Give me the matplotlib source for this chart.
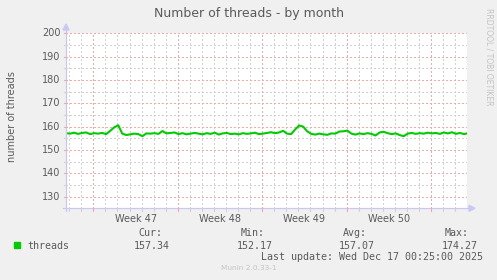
import matplotlib
matplotlib.use("Agg")
import matplotlib.pyplot as plt
import numpy as np

# samples every 8 hours (1/3 day) over the month window
threads = [157.2, 157.0, 157.4, 156.9, 157.3, 157.5, 156.8, 157.2, 157.0, 157.3,
           156.8, 158.2, 159.7, 160.6, 157.0, 156.4, 156.7, 157.0, 156.8, 155.9,
           157.1, 157.0, 157.2, 156.9, 158.1, 157.1, 157.3, 157.5, 156.8, 157.2,
           156.7, 157.0, 157.3, 157.0, 156.7, 157.2, 156.9, 157.4, 156.6, 157.1,
           157.3, 156.8, 157.0, 156.7, 157.2, 156.9, 157.1, 157.4, 156.8, 157.0,
           157.3, 157.6, 157.2, 157.5, 158.2, 157.0, 156.8, 158.8, 160.5, 160.0,
           158.0, 156.9, 156.6, 157.0, 156.7, 156.5, 157.1, 157.0, 157.9, 158.0,
           158.3, 157.0, 156.6, 157.1, 156.8, 157.2, 156.9, 156.2, 157.5, 157.8,
           157.2, 156.8, 157.1, 156.4, 155.9, 157.0, 157.3, 156.9, 157.2, 157.0,
           157.4, 157.1, 157.3, 156.9, 157.5, 157.1, 157.6, 156.9, 157.3, 156.8,
           157.2]
days = np.arange(len(threads)) / 3.0

week_labels = ['Week 47', 'Week 48', 'Week 49', 'Week 50']
first_monday = 2.27          # days from left edge
x_span = 33.25
y_min, y_max = 125, 200
y_ticks = [130, 140, 150, 160, 170, 180, 190, 200]

stats_head = ['Cur:', 'Min:', 'Avg:', 'Max:']
stats_vals = ['157.34', '152.17', '157.07', '174.27']
last_update = 'Last update: Wed Dec 17 00:25:00 2025'

W, H = 497, 280
bg = '#F0F0F0'
txt = '#5A5A5A'
major_c = '#F4A8A8'
minor_c = '#D2D2D2'
axis_c = '#C8C8F4'
green = '#00CC00'

fig = plt.figure(figsize=(W / 100, H / 100), dpi=100, facecolor=bg)
l, r, t, b = 66, 467, 33.3, 208.3
ax = fig.add_axes([l / W, 1 - b / H, (r - l) / W, (b - t) / H])
ax.set_facecolor('white')
ax.set_xlim(0, x_span)
ax.set_ylim(y_min, y_max)

dot = (0, (1, 2))
grid_kw = dict(lw=1.0, ls=dot, antialiased=False)
# minor grid
for d in np.arange(first_monday - 2, x_span, 1.0):
    if d > 0:
        ax.axvline(d, color=minor_c, zorder=1, **grid_kw)
for v in range(135, 200, 10):
    ax.axhline(v, color=minor_c, zorder=1, **grid_kw)
# major grid
mondays = np.arange(first_monday, x_span, 7.0)
for d in mondays:
    ax.axvline(d, color=major_c, zorder=2, **grid_kw)
for v in y_ticks:
    ax.axhline(v, color=major_c, zorder=2, **grid_kw)

ax.plot(days, threads, color=green, lw=1.5, zorder=3, clip_on=True)

for s in ax.spines.values():
    s.set_visible(False)
ax.set_xticks([])
ax.set_yticks([])

# axes with arrows (figure pixel coords)
def fx(px):
    return px / W

def fy(py):
    return 1 - py / H

fig.add_artist(plt.Line2D([fx(l), fx(l)], [fy(b + 3), fy(28)], color=axis_c, lw=0.9))
fig.add_artist(plt.Line2D([fx(l - 3), fx(470)], [fy(b), fy(b)], color=axis_c, lw=0.9))
fig.add_artist(plt.Polygon([[fx(l - 3), fy(30)], [fx(l + 3), fy(30)], [fx(l), fy(24)]],
                           closed=True, color=axis_c, transform=fig.transFigure))
fig.add_artist(plt.Polygon([[fx(469), fy(b - 3)], [fx(469), fy(b + 3)], [fx(475), fy(b)]],
                           closed=True, color=axis_c, transform=fig.transFigure))
# small tick marks on axes
for d in np.arange(first_monday - 2, x_span, 1.0):
    if d > 0:
        px = l + d / x_span * (r - l)
        c = major_c if any(abs(d - m) < 1e-6 for m in mondays) else minor_c
        fig.add_artist(plt.Line2D([fx(px), fx(px)], [fy(b), fy(b + 2.5)], color=c, lw=0.8))
for v in range(130, 201, 5):
    py = b - (v - y_min) / (y_max - y_min) * (b - t)
    c = major_c if v % 10 == 0 else minor_c
    fig.add_artist(plt.Line2D([fx(l - 2.5), fx(l)], [fy(py), fy(py)], color=c, lw=0.8))

# tick labels
for v in y_ticks:
    ax.text(-0.013, v, str(v), transform=ax.get_yaxis_transform(), ha='right', va='center',
            fontsize=7, color=txt)
for i, lab in enumerate(week_labels):
    mid = mondays[i] + 3.5
    ax.text(mid, -0.035, lab, transform=ax.get_xaxis_transform(), ha='center', va='top',
            fontsize=7, color=txt)

fig.text(0.5, fy(14), 'Number of threads - by month', ha='center', va='center',
         fontsize=9, color=txt)
fig.text(fx(12), fy(117), 'number of threads', rotation=90, ha='center', va='center',
         fontsize=7, color=txt)
fig.text(fx(489), fy(57), 'RRDTOOL / TOBI OETIKER', rotation=-90, ha='center', va='center',
         fontsize=5.5, color='#C4C4C4')

mono = 'DejaVu Sans Mono'
fig.add_artist(plt.Rectangle((fx(14.3), fy(248)), 5.7 / W, 6 / H, color=green,
                             transform=fig.transFigure))
fig.text(fx(27), fy(245.7), 'threads', ha='left', va='center', fontsize=7.2,
         family=mono, color=txt)
head_right = [162.3, 265, 367, 469]
val_right = [170, 273, 375, 478]
for hd, hr, vl, vr in zip(stats_head, head_right, stats_vals, val_right):
    fig.text(fx(hr), fy(233.3), hd, ha='right', va='center', fontsize=7.2, family=mono, color=txt)
    fig.text(fx(vr), fy(245.7), vl, ha='right', va='center', fontsize=7.2, family=mono, color=txt)
fig.text(fx(483), fy(257.3), last_update, ha='right', va='center', fontsize=7.2,
         family=mono, color=txt)
fig.text(fx(249), fy(268.5), 'Munin 2.0.33-1', ha='center', va='center', fontsize=5.3,
         color='#C4C4C4')

fig.savefig('out.png', dpi=100, facecolor=bg)
